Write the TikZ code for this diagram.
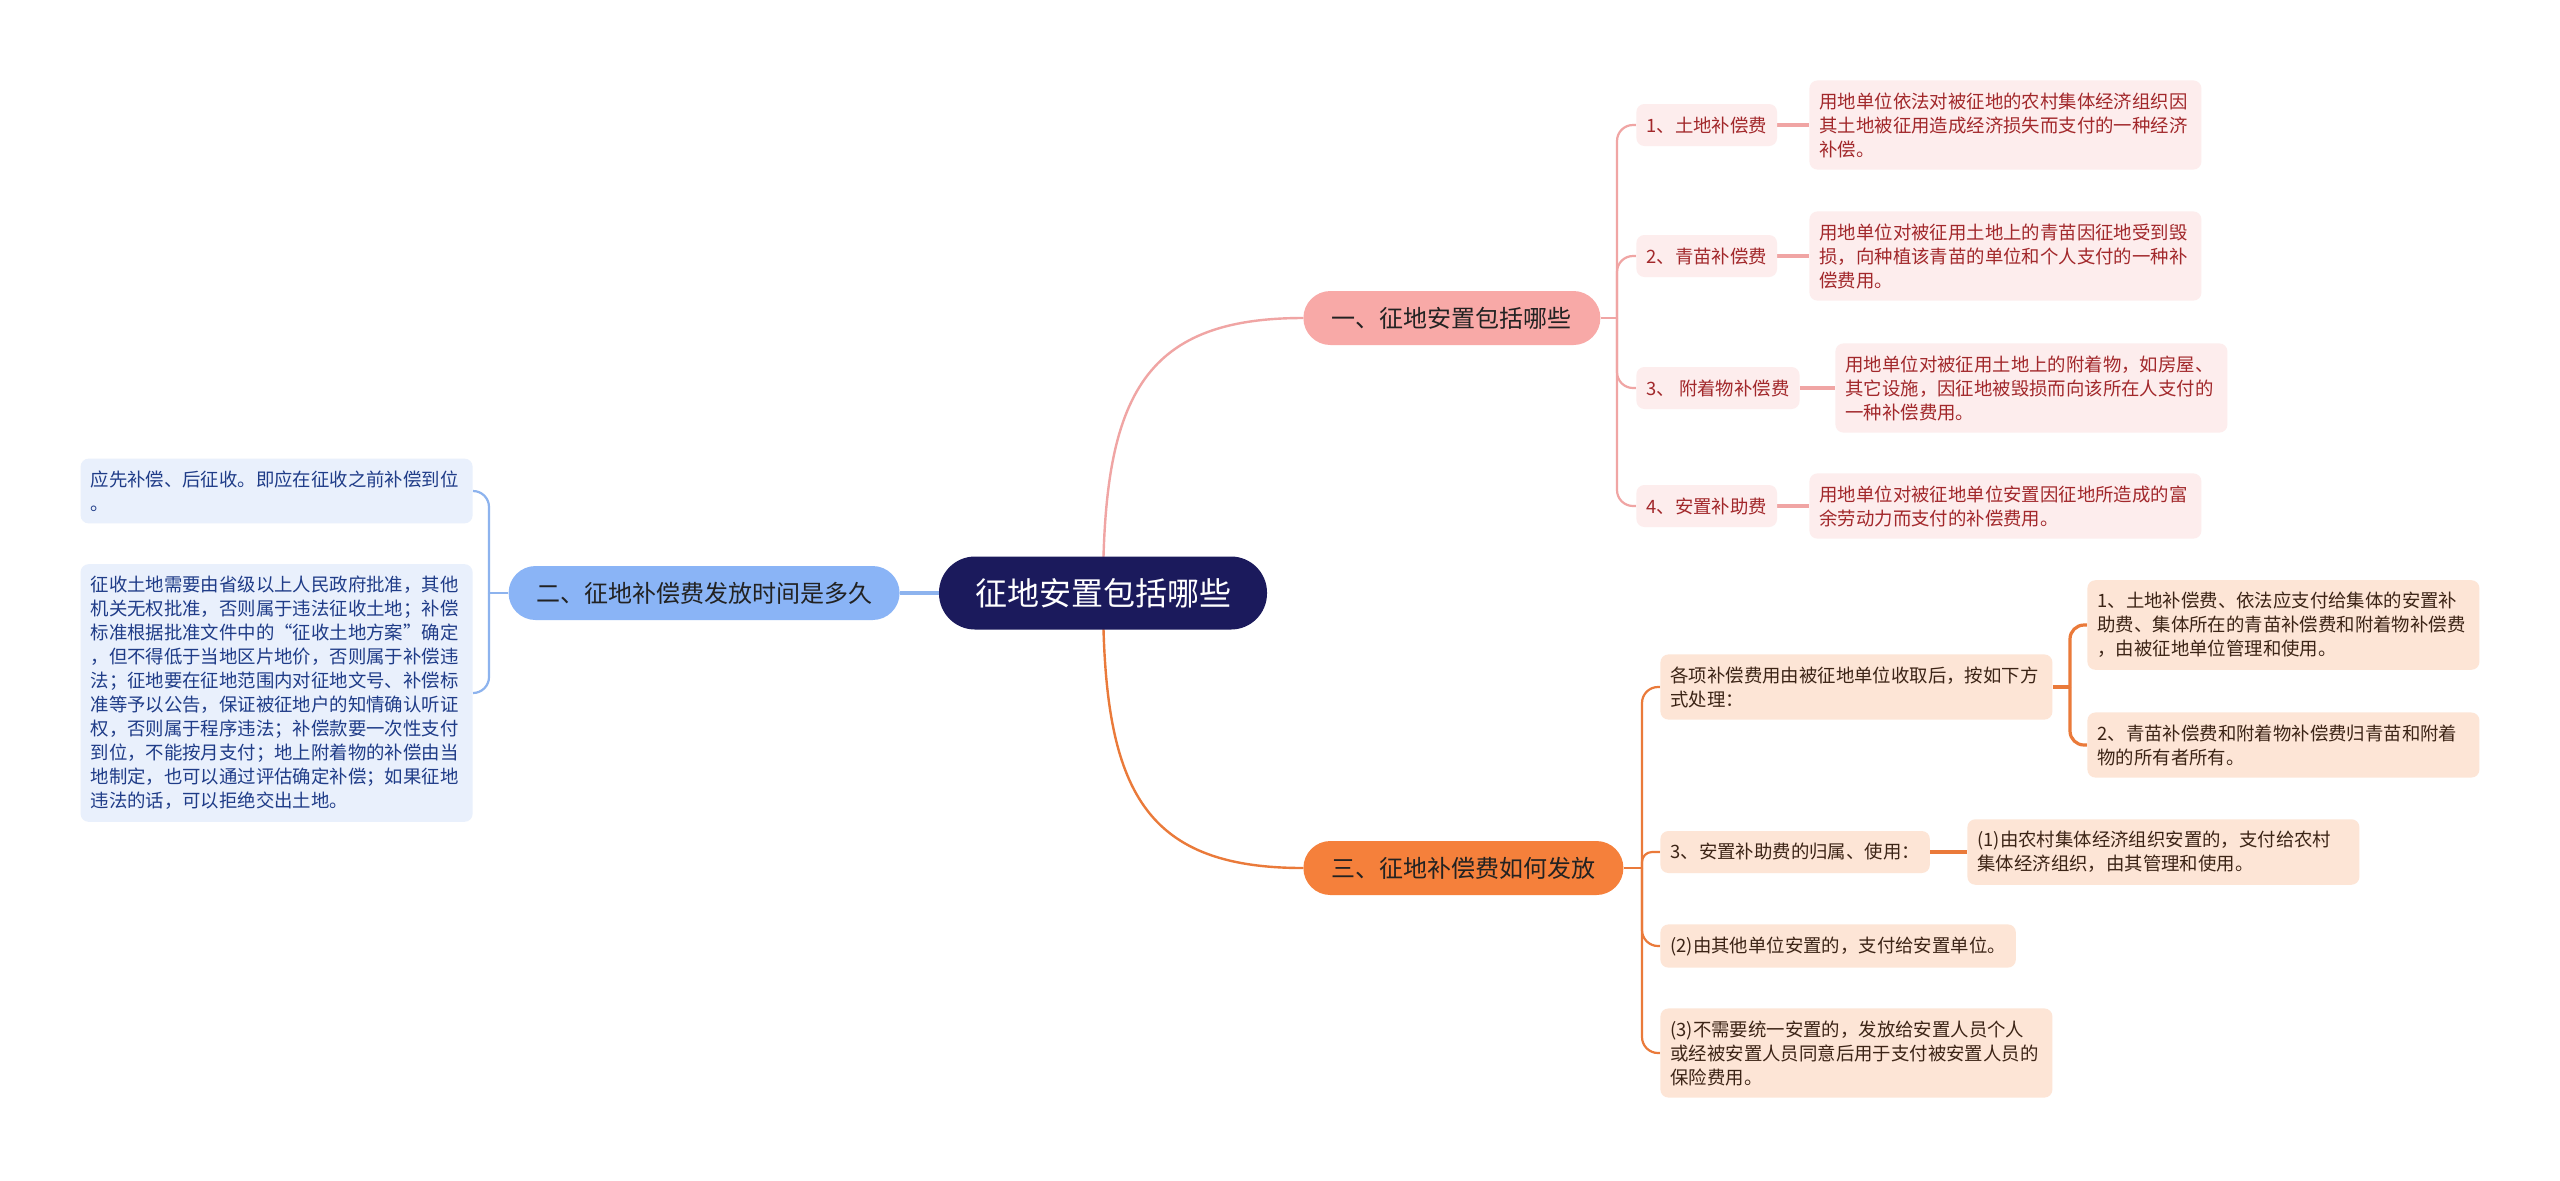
\documentclass[tikz,border=0pt]{standalone}
\usepackage{fontspec}
\setmainfont{Noto Sans CJK SC}
\usetikzlibrary{backgrounds}
\definecolor{navy}{HTML}{1B1A5C}
\definecolor{pinkB}{HTML}{F8A9A7}
\definecolor{pinkL}{HTML}{F0A5A4}
\definecolor{pinkF}{HTML}{FDEDED}
\definecolor{pinkT}{HTML}{A2282B}
\definecolor{blueB}{HTML}{8AB4F6}
\definecolor{blueL}{HTML}{8DB3EE}
\definecolor{blueF}{HTML}{E9F0FC}
\definecolor{blueT}{HTML}{1F3C88}
\definecolor{orB}{HTML}{F5803B}
\definecolor{orL}{HTML}{EA7A3A}
\definecolor{orF}{HTML}{FDE5D6}
\definecolor{orT}{HTML}{3C2416}
\definecolor{topicT}{HTML}{222222}
\tikzset{
  rootbox/.style={fill=navy, text=white, rounded corners=18pt, minimum width=164pt, minimum height=36.5pt, font=\fontsize{16}{19}\selectfont, inner sep=0pt},
  topicbox/.style={rounded corners=13.5pt, minimum height=27pt, font=\fontsize{12}{14}\selectfont, text=topicT, inner sep=0pt},
  leafbox/.style={rounded corners=4pt, inner xsep=5pt, inner ysep=6pt, font=\fontsize{9.2}{12}\selectfont, align=left},
  lblbox/.style={leafbox, minimum height=21pt},
  parabox/.style={leafbox, text width=186pt},
  mainline/.style={line width=1.2pt},
  subline/.style={line width=1.1pt, rounded corners=8pt},
  leafline/.style={line width=1.6pt, rounded corners=7pt},
}
\begin{document}
\begin{tikzpicture}[x=0.5pt, y=-0.5pt]
\useasboundingbox (0,0) rectangle (2560,1180);

% spine points
\coordinate (sp1) at (1617,318);
\coordinate (sp2) at (489,593);
\coordinate (sp3) at (1642,868);
\coordinate (sp4) at (2070,687);

% root and topics
\node[rootbox] (root) at (1103,593) {征地安置包括哪些};
\node[topicbox, fill=pinkB, minimum width=148.5pt, anchor=west] (t1) at (1303,318) {一、征地安置包括哪些};
\node[topicbox, fill=blueB, minimum width=195.5pt, anchor=east] (t2) at (900,593) {二、征地补偿费发放时间是多久};
\node[topicbox, fill=orB, minimum width=160pt, anchor=west] (t3) at (1303,868) {三、征地补偿费如何发放};

% branch 1 children
\tikzset{pk/.style={fill=pinkF, text=pinkT}}
\node[lblbox, pk, anchor=west] (l1) at (1636,125) {1、土地补偿费};
\node[lblbox, pk, anchor=west] (l2) at (1636,256) {2、青苗补偿费};
\node[lblbox, pk, anchor=west] (l3) at (1636,388) {3、\ 附着物补偿费};
\node[lblbox, pk, anchor=west] (l4) at (1636,506) {4、安置补助费};
\node[parabox, pk, anchor=west] (d1) at (1809,125) {用地单位依法对被征地的农村集体经济组织因\\其土地被征用造成经济损失而支付的一种经济\\补偿。};
\node[parabox, pk, anchor=west] (d2) at (1809,256) {用地单位对被征用土地上的青苗因征地受到毁\\损，向种植该青苗的单位和个人支付的一种补\\偿费用。};
\node[parabox, pk, anchor=west] (d3) at (1835,388) {用地单位对被征用土地上的附着物，如房屋、\\其它设施，因征地被毁损而向该所在人支付的\\一种补偿费用。};
\node[parabox, pk, anchor=west] (d4) at (1809,506) {用地单位对被征地单位安置因征地所造成的富\\余劳动力而支付的补偿费用。};

% branch 2 children
\tikzset{bl/.style={fill=blueF, text=blueT}}
\node[parabox, bl, anchor=east] (c1) at (473,491) {应先补偿、后征收。即应在征收之前补偿到位\\。};
\node[parabox, bl, anchor=east] (c2) at (473,693) {征收土地需要由省级以上人民政府批准，其他\\机关无权批准，否则属于违法征收土地；补偿\\标准根据批准文件中的“征收土地方案”确定\\，但不得低于当地区片地价，否则属于补偿违\\法；征地要在征地范围内对征地文号、补偿标\\准等予以公告，保证被征地户的知情确认听证\\权，否则属于程序违法；补偿款要一次性支付\\到位，不能按月支付；地上附着物的补偿由当\\地制定，也可以通过评估确定补偿；如果征地\\违法的话，可以拒绝交出土地。};

% branch 3 children
\tikzset{og/.style={fill=orF, text=orT}}
\node[parabox, og, anchor=west] (a) at (1660,687) {各项补偿费用由被征地单位收取后，按如下方\\式处理：};
\node[parabox, og, anchor=west] (a1) at (2087,625) {1、土地补偿费、依法应支付给集体的安置补\\助费、集体所在的青苗补偿费和附着物补偿费\\，由被征地单位管理和使用。};
\node[parabox, og, anchor=west] (a2) at (2087,745) {2、青苗补偿费和附着物补偿费归青苗和附着\\物的所有者所有。};
\node[lblbox, og, anchor=west] (b) at (1660,852) {3、安置补助费的归属、使用：};
\node[parabox, og, anchor=west] (b1) at (1967,852) {(1)由农村集体经济组织安置的，支付给农村\\集体经济组织，由其管理和使用。};
\node[lblbox, og, anchor=west] (c) at (1660,946) {(2)由其他单位安置的，支付给安置单位。};
\node[parabox, og, anchor=west] (d) at (1660,1053) {(3)不需要统一安置的，发放给安置人员个人\\或经被安置人员同意后用于支付被安置人员的\\保险费用。};

% connectors, behind the nodes
\begin{scope}[on background layer]
\fill[white] (0,0) rectangle (2560,1180);
% root to topics
\draw[pinkL, mainline] (root.center) .. controls (1103,400) and (1140,318) .. (t1.west);
\draw[blueL, line width=2.2pt] (root.center) -- (t2.east);
\draw[orL, mainline] (root.center) .. controls (1103,786) and (1140,868) .. (t3.west);
% branch 1
\draw[pinkL, subline] (t1.east) -- (sp1);
\draw[pinkL, subline] (sp1) |- (l1.west);
\draw[pinkL, subline] (sp1) |- (l2.west);
\draw[pinkL, subline] (sp1) |- (l3.west);
\draw[pinkL, subline] (sp1) |- (l4.west);
\draw[pinkL, leafline] (l1.east) -- (d1.west);
\draw[pinkL, leafline] (l2.east) -- (d2.west);
\draw[pinkL, leafline] (l3.east) -- (d3.west);
\draw[pinkL, leafline] (l4.east) -- (d4.west);
% branch 2
\draw[blueL, subline] (t2.west) -- (sp2);
\draw[blueL, subline] (sp2) |- (c1.east);
\draw[blueL, subline] (sp2) |- (c2.east);
% branch 3
\draw[orL, subline] (t3.east) -- (sp3);
\draw[orL, subline] (sp3) |- (a.west);
\draw[orL, subline, rounded corners=5pt] (sp3) |- (b.west);
\draw[orL, subline] (sp3) |- (c.west);
\draw[orL, subline] (sp3) |- (d.west);
\draw[orL, leafline] (a.east) -- (sp4);
\draw[orL, leafline] (sp4) |- (a1.west);
\draw[orL, leafline] (sp4) |- (a2.west);
\draw[orL, leafline] (b.east) -- (b1.west);
\end{scope}
\end{tikzpicture}
\end{document}
